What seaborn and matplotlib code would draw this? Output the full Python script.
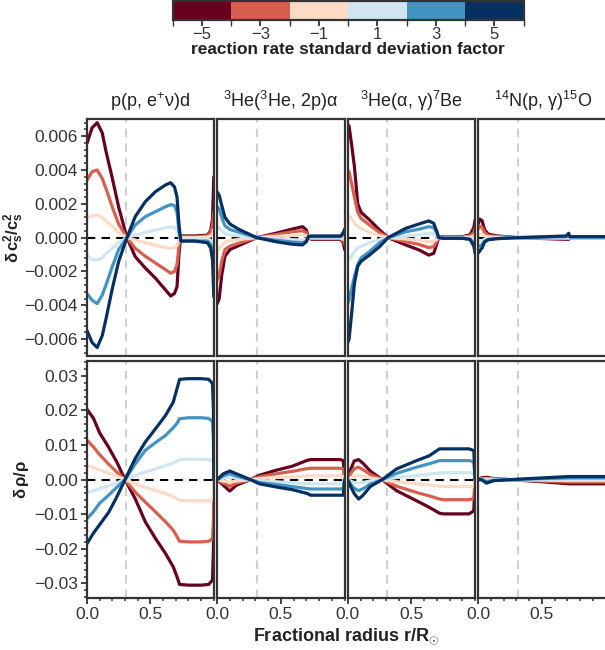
import matplotlib
matplotlib.use("Agg")
import matplotlib.pyplot as plt
import numpy as np
import pandas as pd
import seaborn as sns
from matplotlib.colors import ListedColormap, BoundaryNorm
from matplotlib.cm import ScalarMappable
from matplotlib.ticker import MultipleLocator, FuncFormatter

# ---------------- data ----------------
SIGMAS = [-5, -3, -1, 1, 3, 5]
SIGMA_COLORS = ["#67001f", "#d6604d", "#fddbc7", "#d1e5f0", "#4393c3", "#053061"]
CBAR_TICKS = [-5, -3, -1, 1, 3, 5]

TITLES = [r"p(p, e$^{+}$ν)d", r"$^{3}$He($^{3}$He, 2p)α",
          r"$^{3}$He(α, γ)$^{7}$Be", r"$^{14}$N(p, γ)$^{15}$O"]

# sound speed, p(p,e+nu)d
R_CS_PP = [0.0, 0.04, 0.08, 0.12, 0.15, 0.2, 0.25, 0.315, 0.38, 0.46, 0.54, 0.62,
           0.66, 0.69, 0.71, 0.725, 0.74, 0.85, 0.95, 0.975, 0.99, 1.0]
CS_PP = {
    -5: [0.00558, 0.0065, 0.0068, 0.0062, 0.0051, 0.0035, 0.0018, 0.0, -0.00112, -0.0018, -0.0024, -0.0031,
         -0.00345, -0.0033, -0.0029, -0.001, 0.0001, 0.0001, 0.00015, 0.0004, 0.0011, 0.0036],
    -3: [0.0034, 0.0039, 0.004, 0.0035, 0.0029, 0.0018, 0.0008, 0.0, -0.00063, -0.0011, -0.0015, -0.0019,
         -0.0021, -0.002, -0.0016, -0.0005, 0.00005, 0.00005, 0.0001, 0.0003, 0.0007, 0.0015],
    -1: [0.00114, 0.0013, 0.00134, 0.0012, 0.001, 0.00065, 0.0003, 0.0, -0.00014, -0.0003, -0.00045, -0.00058,
         -0.00063, -0.0006, -0.00045, -0.00015, 0.0, 0.0, 0.00003, 0.0001, 0.0002, 0.0005],
    1: [-0.00103, -0.0013, -0.00132, -0.0012, -0.00095, -0.00063, -0.0003, 0.0, 0.00016, 0.0003, 0.00045, 0.00058,
        0.00063, 0.0006, 0.00045, 0.00012, -0.0001, -0.0001, -0.0001, -0.00015, -0.0003, -0.0005],
    3: [-0.0033, -0.0037, -0.0039, -0.0034, -0.0028, -0.0017, -0.0007, 0.0, 0.00075, 0.00124, 0.00154, 0.00183,
        0.00195, 0.0019, 0.0015, 0.0004, -0.0002, -0.0002, -0.0002, -0.0004, -0.0008, -0.0014],
    5: [-0.0055, -0.0062, -0.0065, -0.0058, -0.0048, -0.003, -0.0014, 0.0, 0.00124, 0.00213, 0.00272, 0.00312,
        0.00325, 0.003, 0.0024, 0.0008, -0.0002, -0.0002, -0.0003, -0.0006, -0.0013, -0.0035],
}

# sound speed, 3He(3He,2p)a
R_CS_HE3 = [0.0, 0.015, 0.035, 0.06, 0.1, 0.18, 0.31, 0.46, 0.59, 0.67, 0.7, 0.715, 0.74, 0.9, 0.97, 0.99, 1.0]
CS_HE3 = {
    -5: [-0.0039, -0.0036, -0.0022, -0.0011, -0.0007, -0.00043, 0.0, 0.00026, 0.00051, 0.00065, 0.00045, 0.0,
         -0.0001, -0.0001, -0.0001, -0.0003, -0.0007],
    -3: [-0.0025, -0.0022, -0.0014, -0.0007, -0.0005, -0.0003, 0.0, 0.00018, 0.00035, 0.00041, 0.0003, 0.0,
         -0.00006, -0.00006, -0.00006, -0.0002, -0.0004],
    -1: [-0.00073, -0.00065, -0.00045, -0.00025, -0.00017, -0.0001, 0.0, 0.00007, 0.00013, 0.00016, 0.0001, 0.0,
         -0.00002, -0.00002, -0.00002, -0.0001, -0.0001],
    1: [0.00065, 0.0006, 0.0004, 0.00023, 0.00016, 0.0001, 0.0, -0.00007, -0.00012, -0.00014, -0.0001, 0.0,
        0.00002, 0.00002, 0.00002, 0.0001, 0.0001],
    3: [0.00183, 0.0017, 0.0012, 0.0007, 0.00048, 0.0003, 0.0, -0.00015, -0.00026, -0.0003, -0.0002, 0.00004,
        0.00006, 0.00006, 0.00006, 0.0002, 0.0003],
    5: [0.0027, 0.0025, 0.0019, 0.0012, 0.0008, 0.00045, 0.0, -0.00024, -0.00039, -0.00043, -0.00024, 0.00006,
        0.0001, 0.0001, 0.0001, 0.0003, 0.0005],
}

# sound speed, 3He(a,g)7Be
R_CS_BE7 = [0.0, 0.01, 0.03, 0.052, 0.078, 0.104, 0.17, 0.25, 0.317, 0.455, 0.56, 0.636, 0.675, 0.7,
            0.714, 0.75, 0.9, 0.96, 0.99, 1.0]
CS_BE7 = {
    -5: [0.0067, 0.0066, 0.0055, 0.0042, 0.002, 0.0015, 0.00105, 0.00045, 0.0, -0.00043, -0.00073, -0.00103,
         -0.00093, -0.00034, 0.0, 0.00006, 0.00006, 0.00016, 0.0006, 0.00105],
    -3: [0.004, 0.0039, 0.0032, 0.0024, 0.0015, 0.00114, 0.00075, 0.0003, 0.0, -0.00024, -0.0004, -0.00059,
         -0.00053, -0.0002, 0.0, 0.00004, 0.00004, 0.0001, 0.0003, 0.0006],
    -1: [0.00134, 0.0013, 0.0011, 0.00085, 0.00065, 0.00055, 0.0003, 0.00012, 0.0, -0.00008, -0.00015, -0.00024,
         -0.0002, -0.00008, 0.0, 0.00001, 0.00001, 0.00003, 0.0001, 0.0002],
    1: [-0.00132, -0.0013, -0.0011, -0.00083, -0.0006, -0.00053, -0.0003, -0.00012, 0.0, 0.0001, 0.00018, 0.00026,
        0.00024, 0.0001, 0.0, -0.00001, -0.00001, -0.00003, -0.0001, -0.0002],
    3: [-0.00388, -0.0037, -0.003, -0.0023, -0.0016, -0.0012, -0.00083, -0.0003, 0.0, 0.00035, 0.0005, 0.00065,
        0.0006, 0.0003, 0.0, -0.00003, -0.00003, -0.0001, -0.0003, -0.0006],
    5: [-0.0062, -0.006, -0.0045, -0.0027, -0.0017, -0.0014, -0.00103, -0.00053, 0.0, 0.00055, 0.00081, 0.00099,
        0.00085, 0.00035, 0.0, -0.00004, -0.00004, -0.0001, -0.0005, -0.00093],
}

# sound speed, 14N(p,g)15O
R_CS_N14 = [0.0, 0.01, 0.03, 0.05, 0.08, 0.15, 0.31, 0.5, 0.69, 0.71, 0.72, 0.8, 1.0]
CS_N14 = {
    -5: [0.0008, 0.0011, 0.001, 0.00045, 0.0002, 0.0001, 0.0, -0.00005, -0.0001, -0.0001, 0.0, 0.0, 0.0],
    -3: [0.0005, 0.0007, 0.0006, 0.0003, 0.00012, 0.00006, 0.0, -0.00003, -0.00006, -0.00006, 0.0, 0.0, 0.0],
    -1: [0.00015, 0.00023, 0.0002, 0.0001, 0.00004, 0.00002, 0.0, -0.00001, -0.00002, -0.00002, 0.0, 0.0, 0.0],
    1: [-0.00015, -0.0002, -0.00018, -0.00009, -0.00004, -0.00002, 0.0, 0.00001, 0.00002, 0.00002, 0.0, 0.0, 0.0],
    3: [-0.0005, -0.0005, -0.0004, -0.0002, -0.0001, -0.00005, 0.0, 0.00003, 0.00006, 0.0001, 0.00003, 0.00003, 0.00003],
    5: [-0.0009, -0.0008, -0.0006, -0.00025, -0.00012, -0.00006, 0.0, 0.00005, 0.0001, 0.00026, 0.00006, 0.00006, 0.00006],
}

# density, p(p,e+nu)d
R_RHO_PP = [0.0, 0.05, 0.1, 0.17, 0.235, 0.3, 0.38, 0.46, 0.54, 0.62, 0.68, 0.71, 0.73, 0.8, 0.9, 0.96,
            0.99, 0.997, 1.0]
RHO_PP = {
    -5: [0.0203, 0.0178, 0.0135, 0.0094, 0.0051, 0.0, -0.0055, -0.0122, -0.017, -0.0214, -0.0252, -0.0281,
         -0.0303, -0.0305, -0.0305, -0.0303, -0.029, -0.02, 0.0],
    -3: [0.0114, 0.0095, 0.0072, 0.0045, 0.0022, 0.0, -0.0036, -0.0065, -0.0093, -0.0122, -0.0146, -0.0165,
         -0.0178, -0.018, -0.018, -0.0178, -0.017, -0.012, 0.0],
    -1: [0.0041, 0.0035, 0.0028, 0.0019, 0.001, 0.0, -0.0012, -0.0022, -0.0031, -0.004, -0.0049, -0.0055,
         -0.006, -0.0061, -0.0061, -0.0061, -0.0058, -0.004, 0.0],
    1: [-0.0038, -0.0032, -0.0026, -0.0018, -0.0009, 0.0, 0.0012, 0.0022, 0.0031, 0.0041, 0.0048, 0.0053,
        0.0058, 0.0059, 0.0059, 0.0058, 0.0056, 0.004, 0.0],
    3: [-0.0113, -0.0093, -0.0068, -0.0045, -0.0022, 0.0, 0.0045, 0.0085, 0.0107, 0.0128, 0.015, 0.0163,
        0.0176, 0.0179, 0.0179, 0.0177, 0.0168, 0.012, 0.0],
    5: [-0.0185, -0.0155, -0.013, -0.0095, -0.005, 0.0, 0.0061, 0.0109, 0.0147, 0.0186, 0.0224, 0.0263,
        0.029, 0.0292, 0.0292, 0.029, 0.0278, 0.02, 0.0],
}

# density, 3He(3He,2p)a
R_RHO_HE3 = [0.0, 0.047, 0.098, 0.15, 0.26, 0.33, 0.46, 0.59, 0.707, 0.733, 0.9, 0.966, 0.99, 1.0]
RHO_HE3 = {
    -5: [0.0, -0.0016, -0.0033, -0.0016, 0.0, 0.00125, 0.0027, 0.0039, 0.0056, 0.0058, 0.0058, 0.0058, 0.0055, 0.0],
    -3: [0.0, -0.001, -0.0019, -0.001, 0.0, 0.0008, 0.0017, 0.0024, 0.0032, 0.0033, 0.0033, 0.0033, 0.0031, 0.0],
    -1: [0.0, -0.0004, -0.0007, -0.0004, 0.0, 0.0003, 0.0006, 0.0008, 0.0011, 0.0011, 0.0011, 0.0011, 0.001, 0.0],
    1: [0.0, 0.0004, 0.0008, 0.0004, 0.0, -0.0003, -0.0006, -0.0009, -0.0012, -0.0012, -0.0012, -0.0012, -0.0011, 0.0],
    3: [0.0, 0.0011, 0.0017, 0.001, 0.0, -0.0008, -0.0014, -0.002, -0.0026, -0.0027, -0.0027, -0.0027, -0.0026, 0.0],
    5: [0.0, 0.0017, 0.0025, 0.0017, 0.0, -0.0012, -0.0021, -0.0029, -0.004, -0.0045, -0.0045, -0.0045, -0.0045, 0.0],
}

# density, 3He(a,g)7Be
R_RHO_BE7 = [0.0, 0.02, 0.05, 0.085, 0.12, 0.176, 0.27, 0.383, 0.54, 0.64, 0.72, 0.75, 0.9, 0.953, 0.99, 1.0]
RHO_BE7 = {
    -5: [0.0, 0.0027, 0.0054, 0.0058, 0.0047, 0.0025, 0.0, -0.0032, -0.0061, -0.008, -0.0097, -0.0099, -0.0099,
         -0.0099, -0.009, 0.0],
    -3: [0.0, 0.0016, 0.0032, 0.0036, 0.0029, 0.0015, 0.0, -0.0019, -0.0037, -0.0047, -0.0056, -0.0058, -0.0058,
         -0.0058, -0.0054, 0.0],
    -1: [0.0, 0.0005, 0.001, 0.0012, 0.001, 0.0005, 0.0, -0.0006, -0.0012, -0.0016, -0.0019, -0.002, -0.002,
         -0.002, -0.0019, 0.0],
    1: [0.0, -0.0004, -0.0008, -0.001, -0.0008, -0.0004, 0.0, 0.0006, 0.0012, 0.0016, 0.0019, 0.002, 0.002,
        0.002, 0.0019, 0.0],
    3: [0.0, -0.0012, -0.0025, -0.0032, -0.0026, -0.0013, 0.0, 0.0018, 0.0036, 0.0046, 0.0055, 0.0055, 0.0055,
        0.0055, 0.0052, 0.0],
    5: [0.0, -0.0018, -0.004, -0.0056, -0.0045, -0.002, 0.0, 0.0031, 0.0055, 0.0069, 0.0089, 0.0089, 0.0089,
        0.0089, 0.0084, 0.0],
}

# density, 14N(p,g)15O
R_RHO_N14 = [0.0, 0.025, 0.065, 0.12, 0.25, 0.5, 0.71, 0.75, 0.9, 0.99, 1.0]
RHO_N14 = {
    -5: [0.0, 0.0005, 0.0007, 0.0003, 0.0, -0.0006, -0.0012, -0.0012, -0.0012, -0.0012, -0.0012],
    -3: [0.0, 0.0003, 0.0004, 0.0002, 0.0, -0.0004, -0.0007, -0.0007, -0.0007, -0.0007, -0.0007],
    -1: [0.0, 0.0001, 0.00013, 0.00006, 0.0, -0.00013, -0.00024, -0.00024, -0.00024, -0.00024, -0.00024],
    1: [0.0, 0.0, -0.0002, -0.00006, 0.0, 0.0001, 0.0002, 0.0002, 0.0002, 0.0002, 0.0002],
    3: [0.0, 0.0, -0.0006, -0.0002, 0.0, 0.0003, 0.0005, 0.0005, 0.0005, 0.0005, 0.0005],
    5: [0.0, 0.0, -0.001, -0.0003, 0.0, 0.0005, 0.0009, 0.0009, 0.0009, 0.0009, 0.0009],
}

CORE_MARK = 0.31

TOP = [(R_CS_PP, CS_PP), (R_CS_HE3, CS_HE3), (R_CS_BE7, CS_BE7), (R_CS_N14, CS_N14)]
BOT = [(R_RHO_PP, RHO_PP), (R_RHO_HE3, RHO_HE3), (R_RHO_BE7, RHO_BE7), (R_RHO_N14, RHO_N14)]


def to_frame(r, curves):
    rows = []
    for s in SIGMAS:
        for x, v in zip(r, curves[s]):
            rows.append({"r": x, "val": v, "sigma": s})
    return pd.DataFrame(rows)


# ---------------- style ----------------
sns.set_theme(style="ticks")
plt.rcParams.update({
    "font.family": ["Liberation Sans", "DejaVu Sans"],
    "mathtext.fontset": "custom",
    "mathtext.rm": "Liberation Sans",
    "mathtext.it": "Liberation Sans:italic",
    "mathtext.bf": "Liberation Sans:bold",
    "axes.edgecolor": "#333333",
    "axes.linewidth": 1.6,
    "xtick.color": "#333333",
    "ytick.color": "#333333",
    "text.color": "#222222",
    "axes.labelcolor": "#222222",
})

W, H = 605, 650
fig = plt.figure(figsize=(W / 100, H / 100), dpi=100)

lefts = [87, 217.3, 347.8, 478.3]
widths = [126.8, 127.3, 127.3, 130.0]
rows_px = [(119.3, 356.0), (361.0, 598.3)]
palette = dict(zip(SIGMAS, SIGMA_COLORS))


def fmt(decimals):
    def f(v, pos):
        s = f"{v:.{decimals}f}"
        if float(s) == 0:
            s = f"{0:.{decimals}f}"
        return s.replace("-", "\u2212")
    return FuncFormatter(f)


for ri, (yt, yb) in enumerate(rows_px):
    data_row = TOP if ri == 0 else BOT
    for ci in range(4):
        ax = fig.add_axes([lefts[ci] / W, 1 - yb / H, widths[ci] / W, (yb - yt) / H])
        r, curves = data_row[ci]
        df = to_frame(r, curves)
        ax.axvline(CORE_MARK, color="#cfcfcf", lw=1.5, ls=(0, (4, 3)), zorder=1)
        ax.axhline(0, color="black", lw=1.5, ls=(0, (4, 3)), zorder=1.5)
        sns.lineplot(data=df, x="r", y="val", hue="sigma", hue_order=SIGMAS, palette=palette,
                     estimator=None, sort=False, legend=False, lw=2.3, ax=ax, zorder=2)
        ax.set_xlim(0, 1.0 * widths[ci] / 127.3 if ci == 3 else 1.0)
        ax.set_xlabel("")
        ax.set_ylabel("")
        for sp in ax.spines.values():
            sp.set_visible(True)
            sp.set_linewidth(1.6)
            sp.set_color("#333333")
        ax.tick_params(which="major", direction="out", length=4.5, width=1.3, labelsize=12.5, pad=2)
        ax.tick_params(which="minor", direction="out", length=2.5, width=1.1)
        if ri == 0:
            ax.set_ylim(-0.007, 0.007)
            ax.yaxis.set_major_locator(MultipleLocator(0.002))
            ax.yaxis.set_minor_locator(MultipleLocator(0.0004))
            ax.yaxis.set_major_formatter(fmt(3))
            ax.set_title(TITLES[ci], fontsize=13, pad=9)
            ax.tick_params(axis="x", which="both", bottom=False, labelbottom=False)
        else:
            ax.set_ylim(-0.0343, 0.0343)
            ax.yaxis.set_major_locator(MultipleLocator(0.01))
            ax.yaxis.set_minor_locator(MultipleLocator(0.002))
            ax.yaxis.set_major_formatter(fmt(2))
            ax.set_xticks([0.0, 0.5])
            ax.xaxis.set_minor_locator(MultipleLocator(0.1))
            ax.xaxis.set_major_formatter(fmt(1))
        if ci > 0:
            ax.tick_params(axis="y", which="both", left=False, labelleft=False)
        else:
            if ri == 0:
                ax.set_ylabel(r"$\mathbf{\delta\,c_s^2/c_s^2}$", fontsize=12)
                ax.yaxis.set_label_coords((26 - 87) / widths[0], 0.5)
            else:
                ax.set_ylabel(r"$\mathbf{\delta\,\rho/\rho}$", fontsize=12)
                ax.yaxis.set_label_coords((31 - 87) / widths[0], 0.5)

fig.text(346 / W, 1 - 636 / H, r"Fractional radius r/R$_{\odot}$", ha="center", va="center",
         fontsize=13, fontweight="bold")

# colorbar
cax = fig.add_axes([172.7 / W, 1 - 20 / H, 351 / W, 19 / H])
cmap = ListedColormap(SIGMA_COLORS)
norm = BoundaryNorm([-6, -4, -2, 0, 2, 4, 6], cmap.N)
cb = fig.colorbar(ScalarMappable(norm=norm, cmap=cmap), cax=cax, orientation="horizontal", ticks=CBAR_TICKS)
cb.outline.set_linewidth(1.6)
cb.outline.set_edgecolor("#333333")
cax.tick_params(direction="out", length=4, width=1.3, labelsize=12, pad=1)
cax.xaxis.set_major_formatter(FuncFormatter(lambda v, p: f"{int(round(v))}".replace("-", "\u2212")))
cb.set_label("reaction rate standard deviation factor", fontsize=12.4, fontweight="bold", labelpad=0)

fig.savefig("out.png", dpi=100)
